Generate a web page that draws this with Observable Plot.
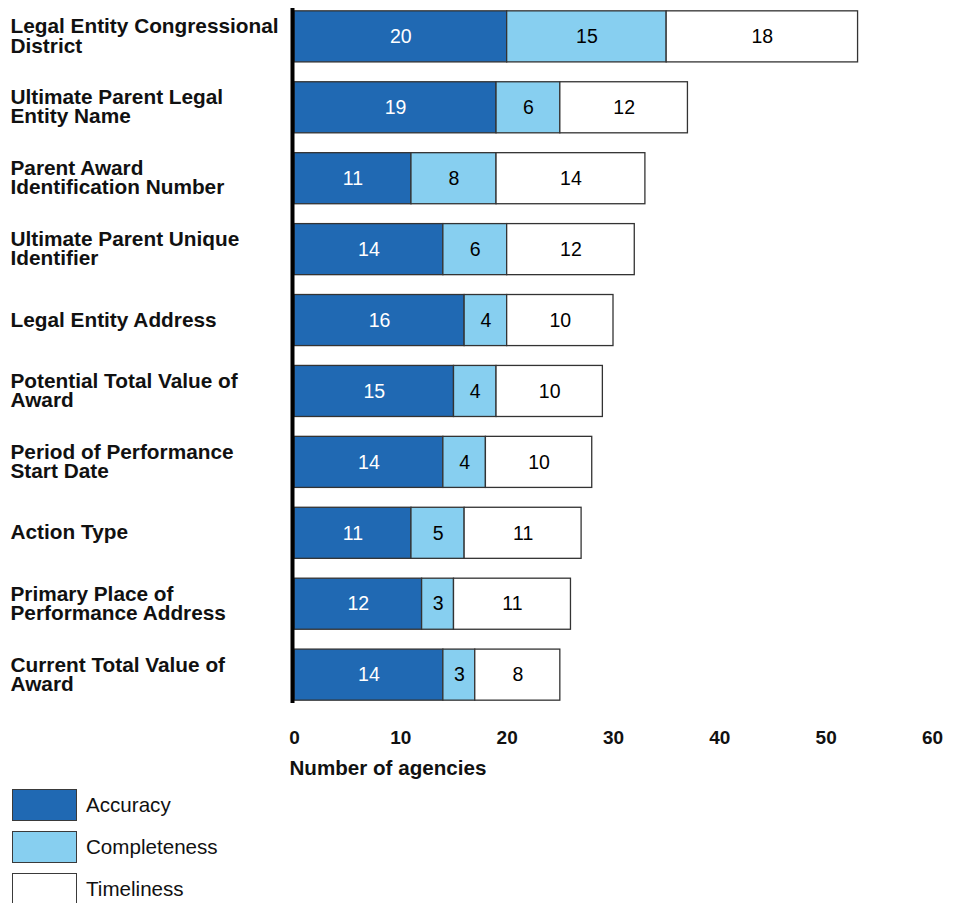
<!DOCTYPE html>
<html><head><meta charset="utf-8">
<script src="https://cdn.jsdelivr.net/npm/d3@7"></script>
<script src="https://cdn.jsdelivr.net/npm/@observablehq/plot@0.6"></script>
<style>
html,body{margin:0;padding:0;background:#fff;overflow:hidden;font-family:"Liberation Sans",Arial,sans-serif;}
#legend{margin-top:4px;}
.item{display:flex;align-items:center;height:32px;margin-bottom:10px;margin-left:12px;}
.sw{width:65px;height:32px;box-sizing:border-box;border:1.5px solid #3a3a3a;margin-right:9px;}
.lab{font-size:20.6px;color:#111;}
</style></head><body><div id="chart"></div><div id="legend"></div>
<script>
const categories = [
  "Legal Entity Congressional District",
  "Ultimate Parent Legal Entity Name",
  "Parent Award Identification Number",
  "Ultimate Parent Unique Identifier",
  "Legal Entity Address",
  "Potential Total Value of Award",
  "Period of Performance Start Date",
  "Action Type",
  "Primary Place of Performance Address",
  "Current Total Value of Award"
];
const categoryLabels = [
  "Legal Entity Congressional\nDistrict",
  "Ultimate Parent Legal\nEntity Name",
  "Parent Award\nIdentification Number",
  "Ultimate Parent Unique\nIdentifier",
  "Legal Entity Address",
  "Potential Total Value of\nAward",
  "Period of Performance\nStart Date",
  "Action Type",
  "Primary Place of\nPerformance Address",
  "Current Total Value of\nAward"
];
const accuracy     = [20, 19, 11, 14, 16, 15, 14, 11, 12, 14];
const completeness = [15,  6,  8,  6,  4,  4,  4,  5,  3,  3];
const timeliness   = [18, 12, 14, 12, 10, 10, 10, 11, 11,  8];
const seriesNames  = ["Accuracy", "Completeness", "Timeliness"];
const seriesColors = ["#2069b3", "#87cff0", "#ffffff"];
const xTicks = [0, 10, 20, 30, 40, 50, 60];
const xLabel = "Number of agencies";

const values = [accuracy, completeness, timeliness];
const data = [];
categories.forEach((c, i) => seriesNames.forEach((s, j) => data.push({category: c, series: s, value: values[j][i]})));

const stackOpts = (extra) => Plot.stackX({x: "value", y: "category", z: "series", order: seriesNames, ...extra});

const chart = Plot.plot({
  width: 962,
  height: 785,
  marginLeft: 294,
  marginRight: 30,
  marginTop: 8,
  marginBottom: 82,
  style: {fontFamily: "'Liberation Sans', Arial, sans-serif", color: "#111"},
  x: {domain: [0, 60]},
  y: {domain: categories, paddingInner: 0.28, paddingOuter: 0.04, round: false},
  color: {domain: seriesNames, range: seriesColors},
  marks: [
    Plot.barX(data, stackOpts({fill: "series", stroke: "#333", strokeWidth: 1.3})),
    Plot.text(data, stackOpts({text: d => d.series === "Accuracy" ? String(d.value) : null, fill: "white", fontSize: 19.5})),
    Plot.text(data, stackOpts({text: d => d.series !== "Accuracy" ? String(d.value) : null, fill: "black", fontSize: 19.5})),
    Plot.ruleX([0], {stroke: "black", strokeWidth: 4, dx: -2}),
    Plot.axisY({tickSize: 0, tickPadding: 0, textAnchor: "start", dx: -284, fontSize: 20.8, fontWeight: "bold",
      lineHeight: 0.92, tickFormat: c => categoryLabels[categories.indexOf(c)], label: null}),
    Plot.axisX({ticks: xTicks, tickSize: 0, tickPadding: 27, fontSize: 19, fontWeight: "bold", label: null}),
    Plot.text([xLabel], {text: d => d, frameAnchor: "bottom-left", dx: -5, dy: 65, textAnchor: "start",
      lineAnchor: "middle", fontSize: 20.6, fontWeight: "bold"})
  ]
});
document.getElementById("chart").appendChild(chart);

const legend = document.getElementById("legend");
seriesNames.forEach((s, i) => {
  const item = document.createElement("div");
  item.className = "item";
  const sw = document.createElement("div");
  sw.className = "sw";
  sw.style.background = seriesColors[i];
  const lab = document.createElement("span");
  lab.className = "lab";
  lab.textContent = s;
  item.appendChild(sw);
  item.appendChild(lab);
  legend.appendChild(item);
});
</script>
</body></html>
